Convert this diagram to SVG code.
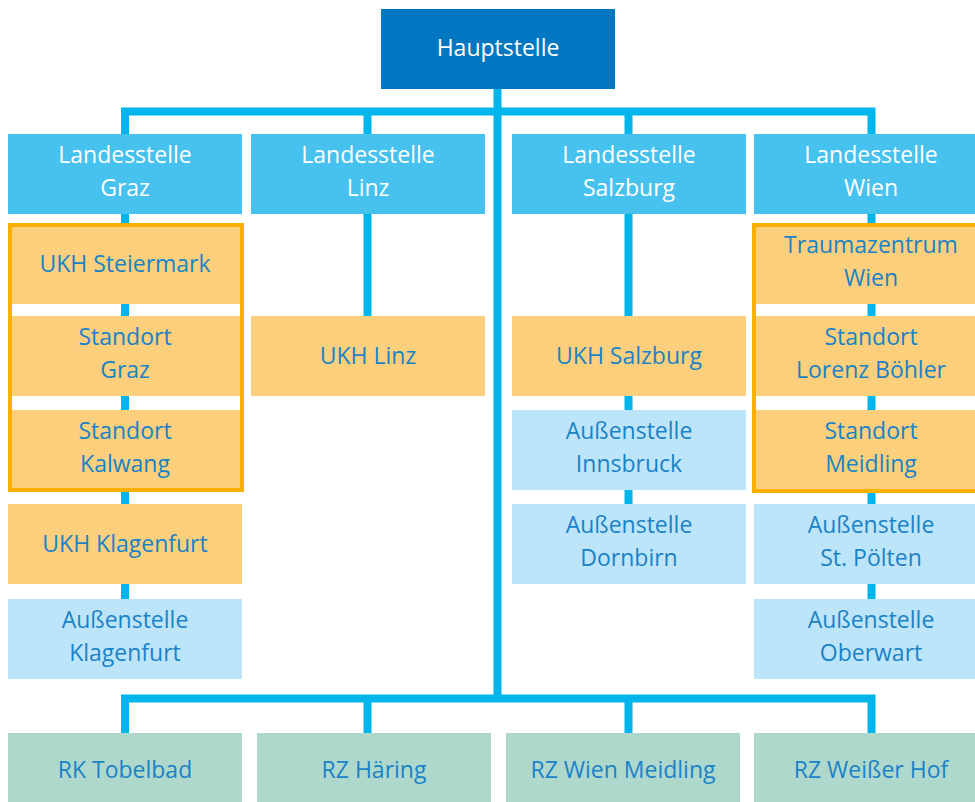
<svg xmlns="http://www.w3.org/2000/svg" width="975" height="802" viewBox="0 0 975 802">
  <style>
    text { font-family: "Open Sans", "Noto Sans", "Liberation Sans", sans-serif; font-size: 23px; text-anchor: middle; }
    .head rect { fill: #0078c1; }
    .land rect { fill: #47c1ee; }
    .ukh rect { fill: #fccf7c; }
    .aus rect { fill: #bde5f9; }
    .rz rect { fill: #afd8cd; }
    .head text, .land text { fill: #ffffff; }
    .ukh text, .aus text, .rz text { fill: #1a82c6; }
    .link { fill: none; stroke: #00b4ec; stroke-width: 8; stroke-linejoin: miter; stroke-linecap: butt; }
    .cluster { fill: none; stroke: #f9b000; stroke-width: 4; }
  </style>

  <!-- connectors -->
  <g id="connectors">
    <path class="link" d="M125,134 V111.5 H871.5 V134"/>
    <path class="link" d="M367.5,134 V111.5 M628.5,134 V111.5"/>
    <path class="link" d="M497.5,89 V698.5"/>
    <path class="link" d="M125,733 V698.5 H871.5 V733"/>
    <path class="link" d="M367.5,733 V698.5 M628.5,733 V698.5"/>
    <path class="link" d="M125,214 V599"/>
    <path class="link" d="M367.5,214 V316"/>
    <path class="link" d="M628.5,214 V504"/>
    <path class="link" d="M871.5,214 V599"/>
  </g>

  <!-- head office -->
  <g id="hauptstelle" class="head">
    <rect x="381" y="9" width="234" height="80"/>
    <text x="498" y="55.7">Hauptstelle</text>
  </g>

  <!-- regional offices -->
  <g id="ls-graz" class="land">
    <rect x="8" y="134" width="234" height="80"/>
    <text x="125" y="162.7">Landesstelle</text>
    <text x="125" y="196.3">Graz</text>
  </g>
  <g id="ls-linz" class="land">
    <rect x="251" y="134" width="234" height="80"/>
    <text x="368" y="162.7">Landesstelle</text>
    <text x="368" y="196.3">Linz</text>
  </g>
  <g id="ls-salzburg" class="land">
    <rect x="512" y="134" width="234" height="80"/>
    <text x="629" y="162.7">Landesstelle</text>
    <text x="629" y="196.3">Salzburg</text>
  </g>
  <g id="ls-wien" class="land">
    <rect x="754" y="134" width="234" height="80"/>
    <text x="871" y="162.7">Landesstelle</text>
    <text x="871" y="196.3">Wien</text>
  </g>

  <!-- Graz column -->
  <g id="ukh-steiermark" class="ukh">
    <rect x="8" y="224" width="234" height="80"/>
    <text x="125" y="271.7">UKH Steiermark</text>
  </g>
  <g id="standort-graz" class="ukh">
    <rect x="8" y="316" width="234" height="80"/>
    <text x="125" y="345">Standort</text>
    <text x="125" y="378.3">Graz</text>
  </g>
  <g id="standort-kalwang" class="ukh">
    <rect x="8" y="410" width="234" height="80"/>
    <text x="125" y="439">Standort</text>
    <text x="125" y="472.3">Kalwang</text>
  </g>
  <g id="ukh-klagenfurt" class="ukh">
    <rect x="8" y="504" width="234" height="80"/>
    <text x="125" y="551.7">UKH Klagenfurt</text>
  </g>
  <g id="as-klagenfurt" class="aus">
    <rect x="8" y="599" width="234" height="80"/>
    <text x="125" y="628">Außenstelle</text>
    <text x="125" y="661.3">Klagenfurt</text>
  </g>

  <!-- Linz column -->
  <g id="ukh-linz" class="ukh">
    <rect x="251" y="316" width="234" height="80"/>
    <text x="368" y="363.7">UKH Linz</text>
  </g>

  <!-- Salzburg column -->
  <g id="ukh-salzburg" class="ukh">
    <rect x="512" y="316" width="234" height="80"/>
    <text x="629" y="363.7">UKH Salzburg</text>
  </g>
  <g id="as-innsbruck" class="aus">
    <rect x="512" y="410" width="234" height="80"/>
    <text x="629" y="439">Außenstelle</text>
    <text x="629" y="472.3">Innsbruck</text>
  </g>
  <g id="as-dornbirn" class="aus">
    <rect x="512" y="504" width="234" height="80"/>
    <text x="629" y="533">Außenstelle</text>
    <text x="629" y="566.3">Dornbirn</text>
  </g>

  <!-- Wien column -->
  <g id="traumazentrum-wien" class="ukh">
    <rect x="754" y="224" width="234" height="80"/>
    <text x="871" y="253">Traumazentrum</text>
    <text x="871" y="286.3">Wien</text>
  </g>
  <g id="standort-boehler" class="ukh">
    <rect x="754" y="316" width="234" height="80"/>
    <text x="871" y="345">Standort</text>
    <text x="871" y="378.3">Lorenz Böhler</text>
  </g>
  <g id="standort-meidling" class="ukh">
    <rect x="754" y="410" width="234" height="80"/>
    <text x="871" y="439">Standort</text>
    <text x="871" y="472.3">Meidling</text>
  </g>
  <g id="as-stpoelten" class="aus">
    <rect x="754" y="504" width="234" height="80"/>
    <text x="871" y="533">Außenstelle</text>
    <text x="871" y="566.3">St. Pölten</text>
  </g>
  <g id="as-oberwart" class="aus">
    <rect x="754" y="599" width="234" height="80"/>
    <text x="871" y="628">Außenstelle</text>
    <text x="871" y="661.3">Oberwart</text>
  </g>

  <!-- hospital clusters -->
  <g id="cluster-steiermark">
    <rect class="cluster" x="10" y="225" width="232" height="265"/>
  </g>
  <g id="cluster-wien">
    <rect class="cluster" x="754" y="225" width="240" height="266"/>
  </g>

  <!-- rehabilitation centres -->
  <g id="rk-tobelbad" class="rz">
    <rect x="8" y="733" width="234" height="80"/>
    <text x="125" y="778.3">RK Tobelbad</text>
  </g>
  <g id="rz-haering" class="rz">
    <rect x="257" y="733" width="234" height="80"/>
    <text x="374" y="778.3">RZ Häring</text>
  </g>
  <g id="rz-wien-meidling" class="rz">
    <rect x="506" y="733" width="234" height="80"/>
    <text x="623" y="778.3">RZ Wien Meidling</text>
  </g>
  <g id="rz-weisser-hof" class="rz">
    <rect x="754" y="733" width="234" height="80"/>
    <text x="871" y="778.3">RZ Weißer Hof</text>
  </g>
</svg>
